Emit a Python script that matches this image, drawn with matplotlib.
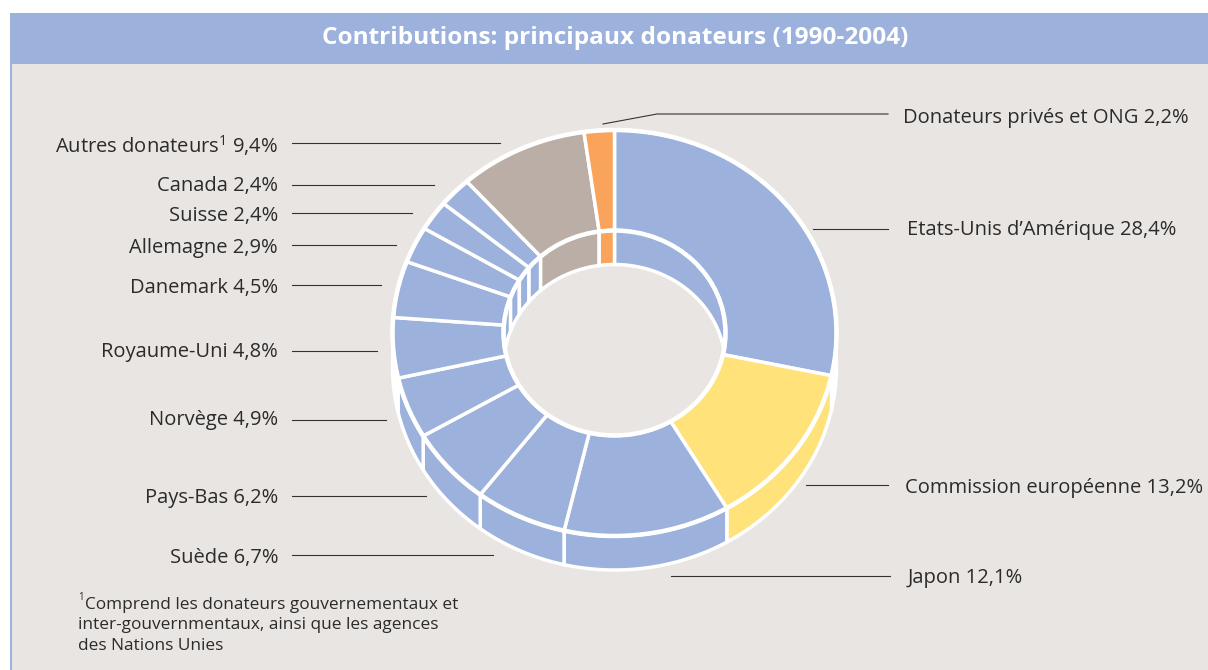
"""Contributions des principaux donateurs, anneau en perspective."""
import matplotlib

matplotlib.use("Agg")
import matplotlib.pyplot as plt
import numpy as np
from matplotlib.patches import Ellipse, Polygon, Rectangle

# parts, dans le sens horaire depuis midi
donors = ["Etats-Unis d\u2019Amérique", "Commission européenne", "Japon", "Suède",
          "Pays-Bas", "Norvège", "Royaume-Uni", "Danemark", "Allemagne",
          "Suisse", "Canada", "Autres donateurs$^{1}$", "Donateurs privés et ONG"]
shares = [28.4, 13.2, 12.1, 6.7, 6.2, 4.9, 4.8, 4.5, 2.9, 2.4, 2.4, 9.4, 2.2]

title = "Contributions: principaux donateurs (1990-2004)"
footnote = ["Comprend les donateurs gouvernementaux et",
            "inter-gouvernmentaux, ainsi que les agences",
            "des Nations Unies"]

BLUE = "#9CB1DB"
YELLOW = "#FFE27A"
TAN = "#BAAEA6"
ORANGE = "#F9A35B"
BG = "#E9E5E2"
slice_colors = [BLUE, YELLOW, BLUE, BLUE, BLUE, BLUE, BLUE, BLUE, BLUE, BLUE,
                BLUE, TAN, ORANGE]

# layout in reference pixels
CX, CY = 614.5, 333
RX, RY = 222, 203
HX, HY = 111, 102.5
DEPTH = 34
PX = 0.72
FONT = "Open Sans"

# label x, label y, alignment, leader polyline
label_layout = [
    (907, 230.5, "left", [(813, 229), (888, 229)]),
    (905, 488.5, "left", [(806, 485), (888, 485)]),
    (908, 578.5, "left", [(671, 576), (890, 576)]),
    (278, 558, "right", [(292, 555), (493, 555)]),
    (278, 497.5, "right", [(292, 496), (426, 496)]),
    (278, 420.5, "right", [(292, 420), (386, 420)]),
    (278, 351.5, "right", [(292, 351), (377, 351)]),
    (278, 287.5, "right", [(292, 285), (381, 285)]),
    (278, 247.5, "right", [(292, 245), (396, 245)]),
    (278, 216.5, "right", [(292, 213), (412, 213)]),
    (278, 186.5, "right", [(292, 185), (434, 185)]),
    (278, 145.5, "right", [(292, 143), (500, 143)]),
    (903, 118.5, "left", [(603, 124), (657, 114), (888, 114)]),
]


def arc(t1, t2, rx, ry, dy=0.0):
    t = np.linspace(t1, t2, 60)
    return np.column_stack([CX + rx * np.sin(t), CY + dy - ry * np.cos(t)])


def main():
    plt.rcParams["font.family"] = [FONT, "DejaVu Sans"]
    plt.rcParams["mathtext.default"] = "regular"

    fig = plt.figure(figsize=(12.08, 6.70), dpi=100, facecolor="white")
    ax = fig.add_axes([0, 0, 1, 1])
    ax.set_xlim(0, 1208)
    ax.set_ylim(670, 0)
    ax.axis("off")

    ax.add_patch(Rectangle((10, 13), 1198, 657, fc=BG, ec="none"))
    ax.add_patch(Rectangle((10, 13), 1198, 51, fc=BLUE, ec="none"))
    ax.add_patch(Rectangle((10, 64), 1.5, 606, fc=BLUE, ec="none"))
    ax.text(615, 38, title, color="white", fontsize=17.6, weight="bold",
            ha="center", va="center")

    bounds = 2 * np.pi * np.concatenate([[0], np.cumsum(shares)]) / np.sum(shares)
    slices = list(zip(bounds[:-1], bounds[1:], slice_colors))

    # outer wall, the top face hides its far side; slices that reach past the
    # widest point of the ellipse only leave a white rim
    for t1, t2, color in slices:
        pts = np.vstack([arc(t1, t2, RX, RY), arc(t2, t1, RX, RY, DEPTH)])
        seen = t1 >= np.pi / 2 and t2 <= 3 * np.pi / 2
        ax.add_patch(Polygon(pts, fc=color if seen else "white", ec="white",
                             lw=3.5 * PX, zorder=2))

    # top face
    for t1, t2, color in slices:
        pts = np.vstack([arc(t1, t2, RX, RY), arc(t2, t1, HX, HY)])
        ax.add_patch(Polygon(pts, fc=color, ec="white", lw=3.5 * PX, zorder=3))
    ax.add_patch(Ellipse((CX, CY), 2 * RX, 2 * RY, fc="none", ec="white",
                         lw=4.5 * PX, zorder=4))

    # hole and inner wall seen through it
    hole = Ellipse((CX, CY), 2 * HX, 2 * HY, fc=BG, ec="none", zorder=5)
    ax.add_patch(hole)
    for t1, t2, color in slices:
        pts = np.vstack([arc(t1, t2, HX, HY), arc(t2, t1, HX, HY, DEPTH)])
        wall = Polygon(pts, fc=color, ec="white", lw=3.5 * PX, zorder=6)
        ax.add_patch(wall)
        wall.set_clip_path(hole)
    ax.add_patch(Ellipse((CX, CY), 2 * HX, 2 * HY, fc="none", ec="white",
                         lw=4.5 * PX, zorder=7))

    for name, share, (x, y, ha, leader) in zip(donors, shares, label_layout):
        value = f"{share:.1f}".replace(".", ",")
        ax.text(x, y, f"{name} {value}%", color="#2B2B2B", fontsize=14.5,
                ha=ha, va="center", zorder=8)
        xs, ys = zip(*leader)
        ax.plot(xs, ys, color="#333333", lw=1.1 * PX, zorder=8)

    ax.text(78, 597, "1", color="#2B2B2B", fontsize=7, ha="left", va="center")
    for line, x, y in zip(footnote, [85, 78, 78], [605, 625, 646]):
        ax.text(x, y, line, color="#2B2B2B", fontsize=12.4, ha="left", va="center")

    fig.savefig("out.png", dpi=100, facecolor="white")
    plt.close(fig)


if __name__ == "__main__":
    main()
